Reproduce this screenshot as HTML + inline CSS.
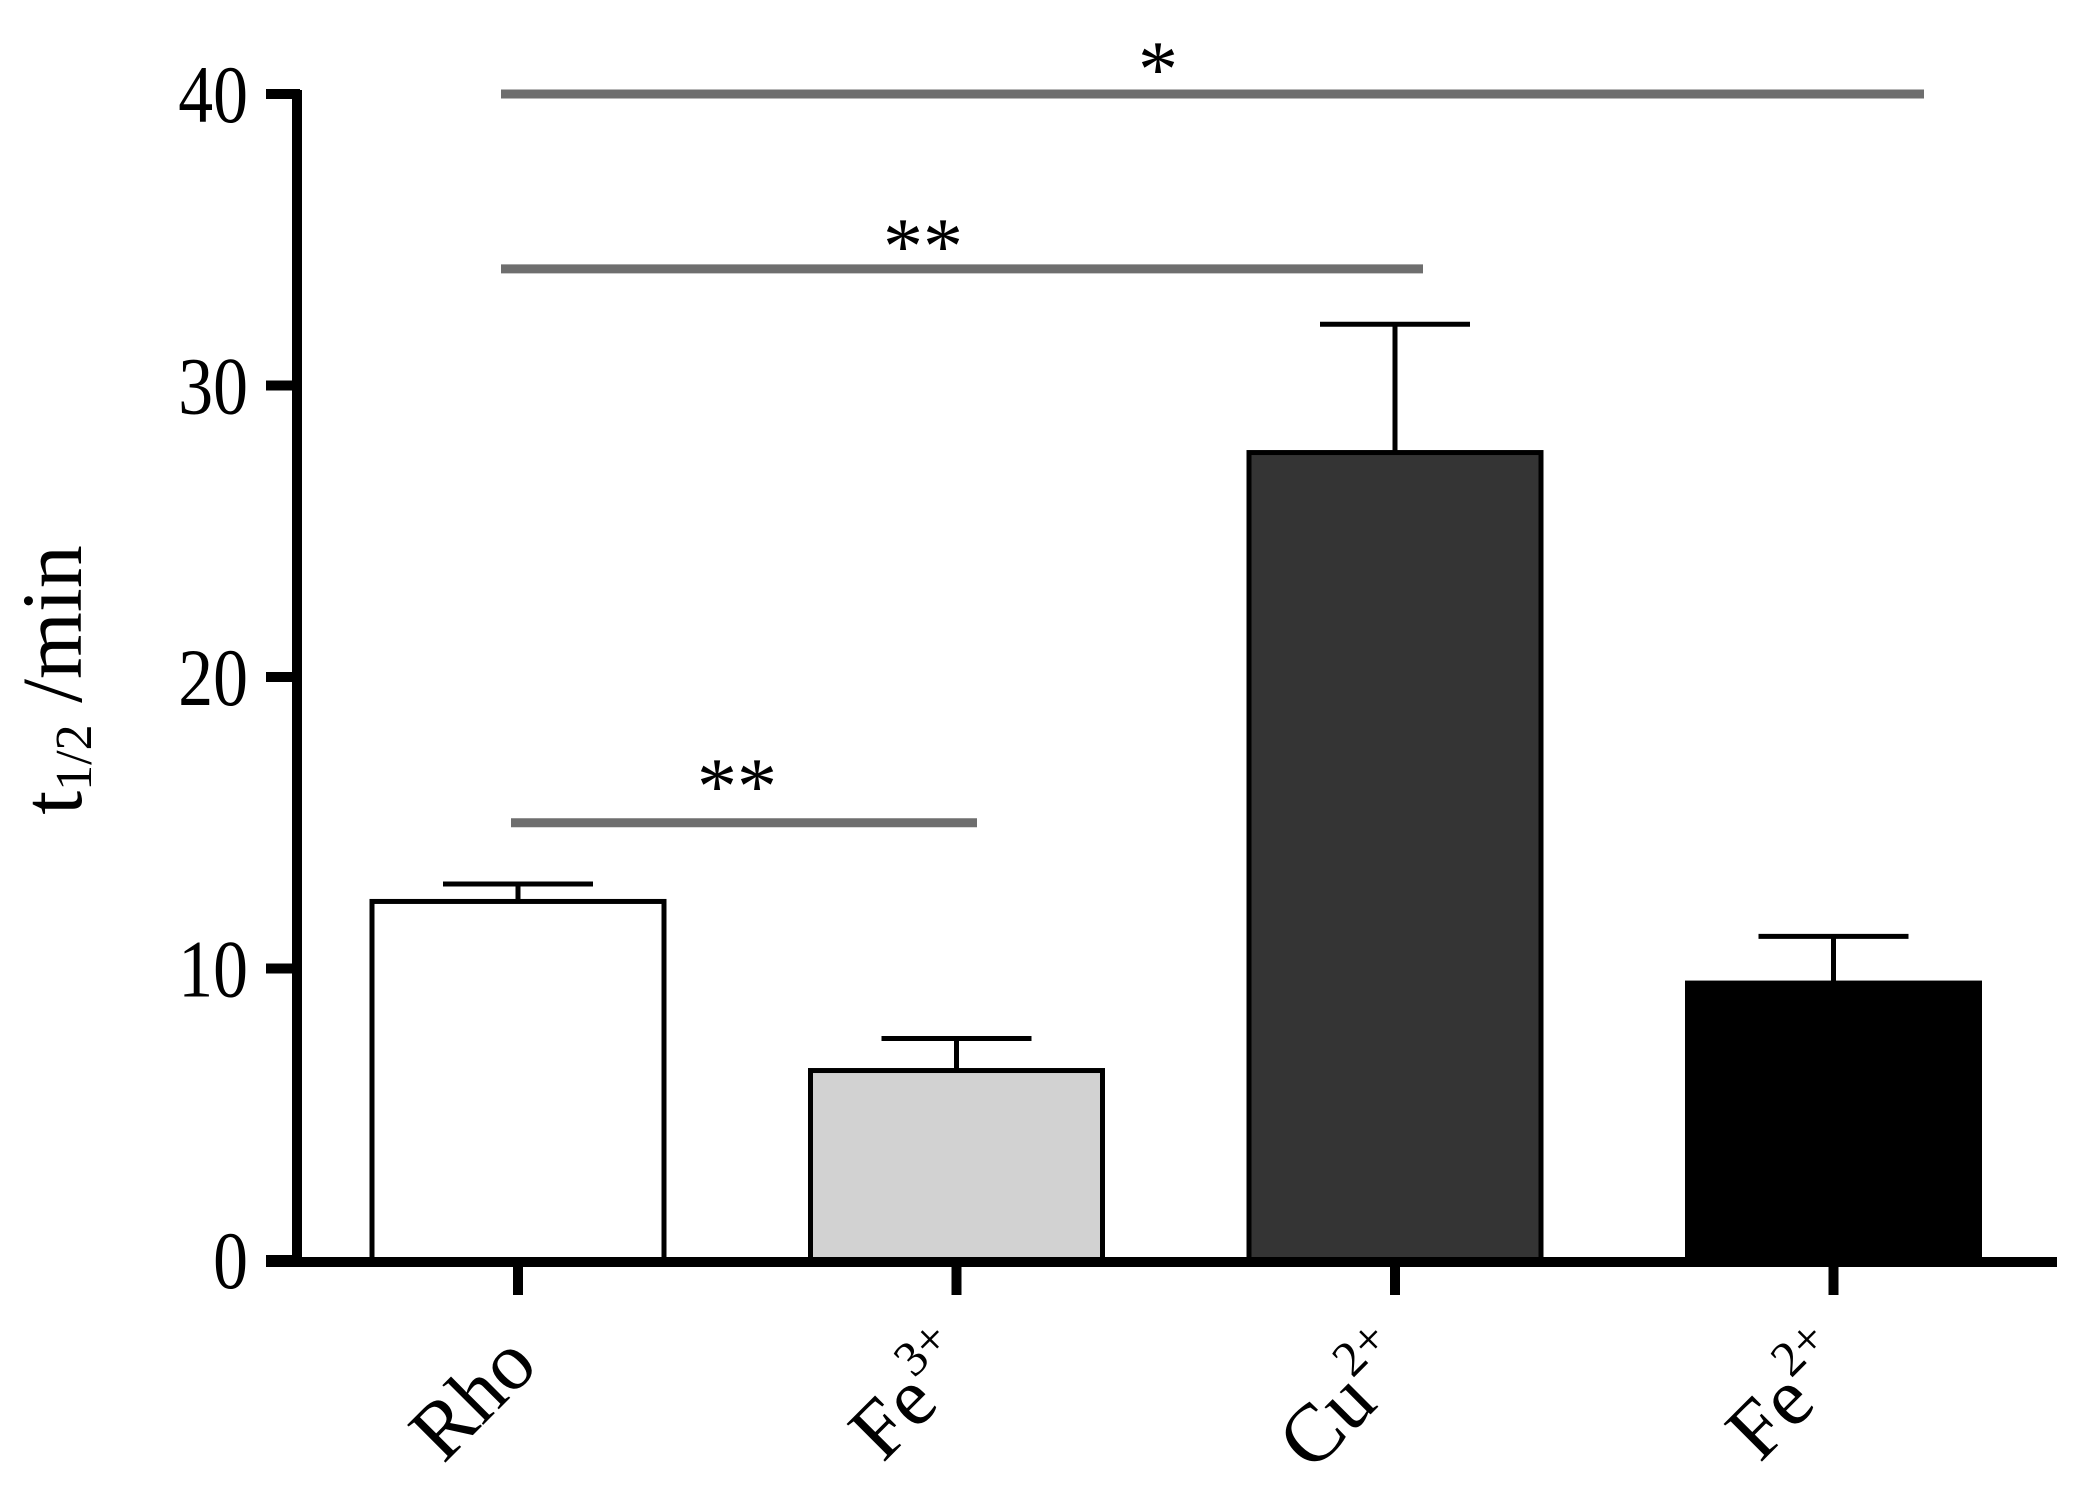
<!DOCTYPE html>
<html><head><meta charset="utf-8"><style>
html,body{margin:0;padding:0;background:#fff;}
svg{display:block;}
text{font-family:"Liberation Serif",serif;}
</style></head><body>
<svg id="chart" width="2083" height="1488" viewBox="0 0 2083 1488" xmlns="http://www.w3.org/2000/svg">
<rect width="2083" height="1488" fill="#fff"/>
<g id="plot"></g>
</svg>
<script>
const categories = ["Rho", "Fe", "Cu", "Fe"];
const superscripts = ["", "3+", "2+", "2+"];
const values = [12.3, 6.5, 27.7, 9.5];
const errors = [0.6, 1.1, 4.4, 1.6];
const barColors = ["#ffffff", "#d2d2d2", "#343434", "#000000"];
const yTicks = [0, 10, 20, 30, 40];
const sigFrom = [0, 0, 0];
const sigTo = [1, 2, 3];
const sigLevel = [15, 34, 40];
const sigLabels = ["**", "**", "*"];

const NS = "http://www.w3.org/2000/svg";
const g = document.getElementById("plot");
const y0 = 1260, yUnit = 29.15;
function yScale(v){ return y0 - v * yUnit; }
function xScale(i){ return 518 + i * 438.5; }
const barW = 292;
function mk(tag, attrs, parent){
  const e = document.createElementNS(NS, tag);
  for (const k in attrs) e.setAttribute(k, attrs[k]);
  (parent || g).appendChild(e);
  return e;
}

categories.forEach((c, i) => {
  const cx = xScale(i);
  const top = yScale(values[i]);
  const r = mk("rect", {x: cx - barW/2, y: top, width: barW, height: y0 - top, fill: barColors[i], stroke: "#000", "stroke-width": 5});
  
  
  const et = yScale(values[i] + errors[i]);
  const e1 = mk("line", {x1: cx, x2: cx, y1: top, y2: et, stroke: "#000", "stroke-width": 5});
  
  
  const e2 = mk("line", {x1: cx - 75, x2: cx + 75, y1: et, y2: et, stroke: "#000", "stroke-width": 5});
  
  
});

const ya = mk("line", {x1: 297, x2: 297, y1: yScale(40) - 4, y2: y0 + 6, stroke: "#000", "stroke-width": 10});


const xa = mk("line", {x1: 266, x2: 2057, y1: y0 + 2, y2: y0 + 2, stroke: "#000", "stroke-width": 10});



yTicks.forEach(t => {
  const y = yScale(t);
  const tk = mk("line", {x1: 266, x2: 300, y1: y, y2: y, stroke: "#000", "stroke-width": 10});
  
  
  const lb = mk("text", {x: 248, y: y + 28, "text-anchor": "end", "font-size": 82, fill: "#000", transform: `translate(248 0) scale(0.85 1) translate(-248 0)`});
  lb.textContent = String(t);
  
  
});

categories.forEach((c, i) => {
  const x = xScale(i);
  const tk = mk("line", {x1: x, x2: x, y1: y0, y2: 1295, stroke: "#000", "stroke-width": 10});
  
  
  const lb = mk("text", {x: 0, y: 0, "text-anchor": "end", "font-size": 82, fill: "#000", transform: `translate(${x + 22} 1368) rotate(-45)`});
  lb.textContent = c;
  if (superscripts[i]) {
    const s = document.createElementNS(NS, "tspan");
    s.setAttribute("font-size", 50);
    s.setAttribute("dy", -38);
    s.textContent = superscripts[i];
    lb.appendChild(s);
  }
  
  
});

const sigStart = [511, 501, 501];
const sigEnd = [977, 1423, 1924];
const starX = [737, 923, 1158];
const starDy = [4, 18, 16];
sigLevel.forEach((lv, k) => {
  const y = yScale(lv);
  const ln = mk("line", {x1: sigStart[k], x2: sigEnd[k], y1: y, y2: y, stroke: "#6e6e6e", "stroke-width": 9});
  
  
  const st = mk("text", {x: starX[k], y: y - 14 + starDy[k], "text-anchor": "middle", "font-size": 80, "font-family": "Liberation Sans, sans-serif", fill: "#000"});
  st.textContent = sigLabels[k];
  
  
});

const yt = mk("text", {x: 0, y: 0, "text-anchor": "middle", "font-size": 86, fill: "#000", transform: "translate(81 680) rotate(-90)"});
yt.innerHTML = 't<tspan font-size="52" dy="10">1/2</tspan><tspan dy="-10"> /min</tspan>';


</script>
</body></html>
